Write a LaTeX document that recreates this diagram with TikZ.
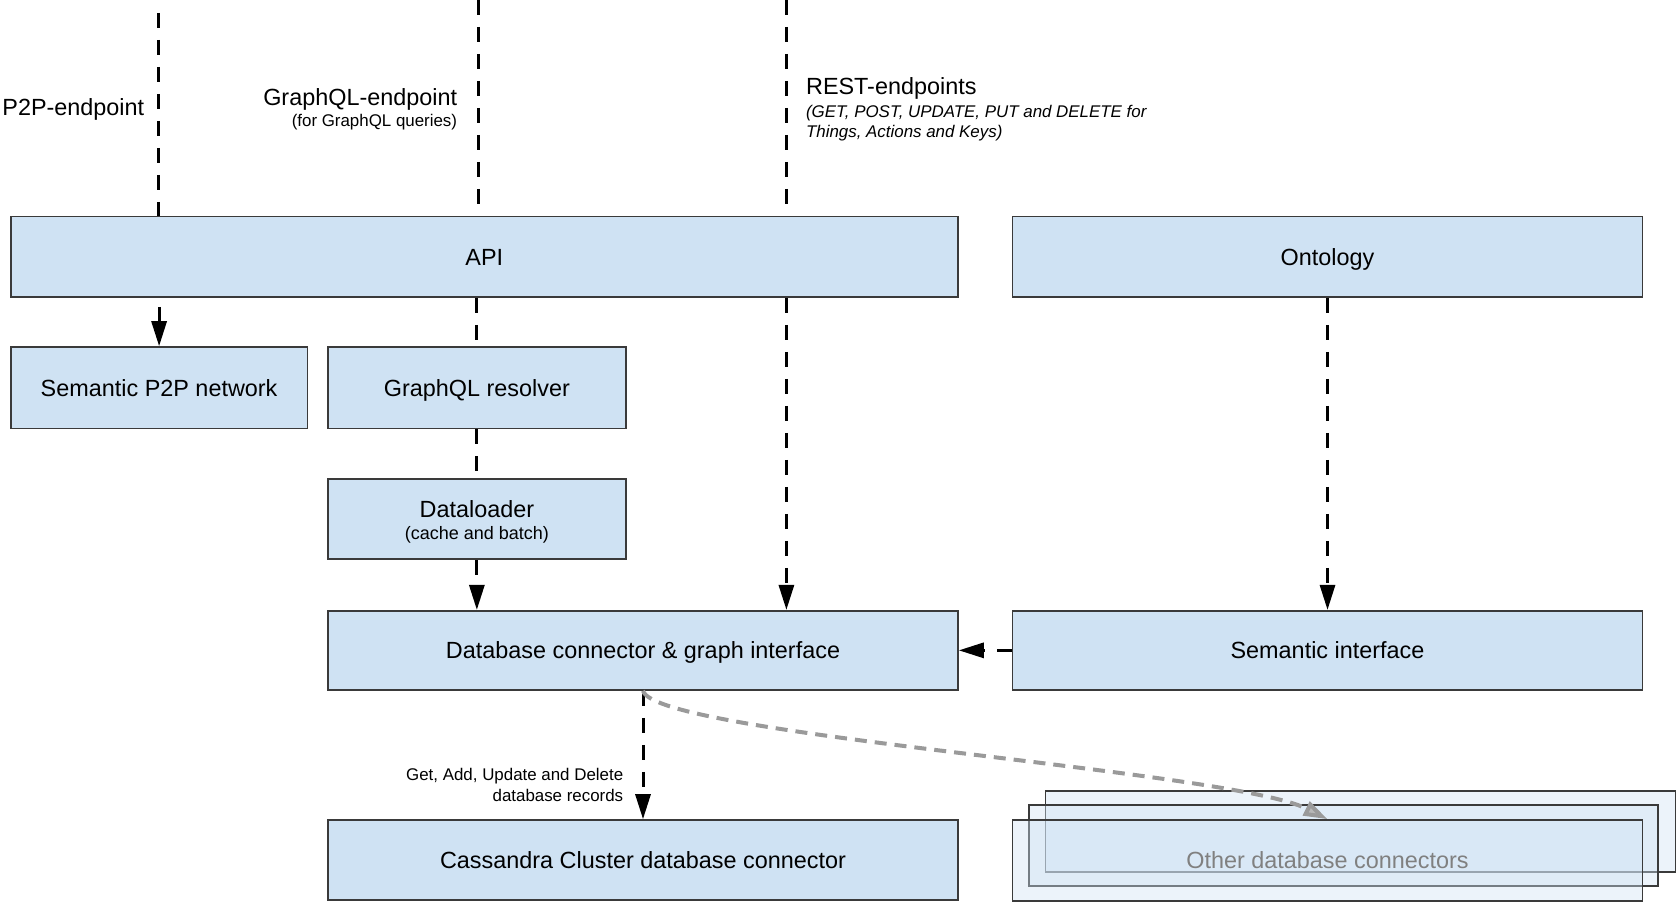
\documentclass[tikz,border=0pt]{standalone}
\usepackage{fontspec}
\setmainfont{Liberation Sans}
\usetikzlibrary{arrows.meta,fit}
\definecolor{boxfill}{HTML}{CFE2F3}
\definecolor{boxline}{HTML}{3A3A3A}
\definecolor{othertext}{HTML}{808080}
\definecolor{grayflowc}{HTML}{9A9A9A}
\definecolor{graytipc}{HTML}{B8B8B8}
\begin{document}
\begin{tikzpicture}[x=0.5pt,y=-0.5pt,
  box/.style={draw=boxline, line width=0.8pt, fill=boxfill, inner sep=0pt, font=\fontsize{11.7}{14}\selectfont},
  ghostbox/.style={draw=boxline, line width=0.8pt, fill=boxfill, fill opacity=0.4, text opacity=1, inner sep=0pt, font=\fontsize{11.7}{14}\selectfont},
  bigtext/.style={inner sep=0pt, font=\fontsize{11.7}{14}\selectfont},
  boxlabel/.style={inner sep=0pt, anchor=base, yshift=-4.2pt, font=\fontsize{11.7}{14}\selectfont},
  smalltext/.style={inner sep=0pt, font=\fontsize{8.45}{10.2}\selectfont},
  flow/.style={line width=1.5pt, dash pattern=on 7.5pt off 6pt},
  grayflow/.style={draw=grayflowc, line width=2pt, dash pattern=on 6pt off 4pt, -{Triangle[length=12pt,width=7.5pt,fill=graytipc]}},
  arrowed/.style={-{Triangle[length=12.5pt,width=7.5pt]}}
]
\useasboundingbox (0,0) rectangle (1680,908);

% boxes
\node[box, fit={(10.7,216.5) (958,297)}] (api) {};
\node[boxlabel] at (api.center) {API};
\node[box, fit={(1012.5,216.5) (1642.5,297)}] (onto) {};
\node[boxlabel] at (onto.center) {Ontology};
\node[box, fit={(10.7,347) (307.5,428.6)}] (p2p) {};
\node[boxlabel] at (p2p.center) {Semantic P2P network};
\node[box, fit={(328,347) (625.7,428.6)}] (gql) {};
\node[boxlabel] at (gql.center) {GraphQL resolver};
\node[box, fit={(328,479) (625.7,559)}] (loader) {};
\node[bigtext] at (476.9,509.5) {Dataloader};
\node[inner sep=0pt, font=\fontsize{9}{11}\selectfont] at (476.9,534.5) {(cache and batch)};
\node[box, fit={(328,610.7) (958,690)}] (db) {};
\node[boxlabel] at (db.center) {Database connector \& graph interface};
\node[box, fit={(1012.5,610.7) (1642.5,690)}] (sem) {};
\node[boxlabel] at (sem.center) {Semantic interface};
\node[box, fit={(328,820) (958,900)}] (cass) {};
\node[boxlabel] at (cass.center) {Cassandra Cluster database connector};

\node[ghostbox, fit={(1045.5,791) (1675.6,872)}] (other3) {};
\node[ghostbox, fit={(1028.8,805) (1658,885.7)}] (other2) {};
\node[ghostbox, fit={(1012.5,820) (1642.5,900.7)}] (other1) {};
\node[boxlabel, text=othertext] at (other1.center) {Other database connectors};

% endpoint labels
\node[bigtext, anchor=west] (p2plbl) at (2,109.5) {P2P-endpoint};
\node[bigtext, anchor=east] (gqllbl) at (457.5,99.5) {GraphQL-endpoint};
\node[smalltext, anchor=east] (gqlsub) at (457.5,122.5) {(for GraphQL queries)};
\node[bigtext, anchor=west] (restlbl) at (805.7,88.5) {REST-endpoints};
\node[smalltext, anchor=north west, align=left, font=\fontsize{8.45}{10.3}\selectfont\itshape] (restsub) at (805.7,104.5) {(GET, POST, UPDATE, PUT and DELETE for\\Things, Actions and Keys)};
\node[smalltext, anchor=east, align=right] (dblbl) at (623.6,785) {Get, Add, Update and Delete\\database records};

% endpoint coordinates
\coordinate (p2ptop) at (158.6,13);
\coordinate (gqltop) at (478,0);
\coordinate (resttop) at (786.4,0);

% connectors
\draw[flow] (p2ptop) -- (p2ptop |- api.north);
\draw[flow] (gqltop) -- (gqltop |- api.north);
\draw[flow] (resttop) -- (resttop |- api.north);
\draw[flow, arrowed, dash phase=9pt] (p2p.north |- api.south) -- (p2p.north);
\draw[flow] (gql.north |- api.south) -- (gql.north);
\draw[flow] (gql.south) -- (loader.north);
\draw[flow, arrowed] (loader.south) -- (loader.south |- db.north);
\draw[flow, arrowed] (resttop |- api.south) -- (resttop |- db.north);
\draw[flow, arrowed] (onto.south) -- (sem.north);
\draw[flow, arrowed] (sem.west) -- (db.east);
\draw[flow, arrowed] (db.south) -- (cass.north);
\draw[grayflow] (db.south) .. controls (655,735) and (1230,770) .. (other1.north);
\end{tikzpicture}
\end{document}
